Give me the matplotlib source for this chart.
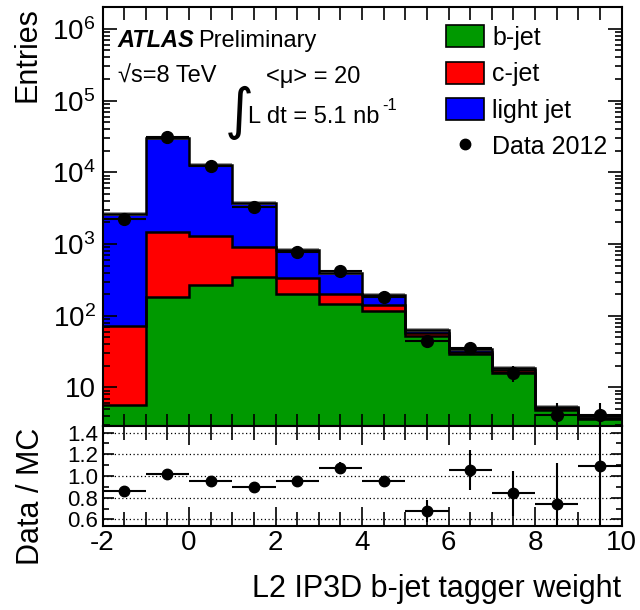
import numpy as np
import matplotlib
matplotlib.use("Agg")
import matplotlib.pyplot as plt
from matplotlib.patches import Patch
from matplotlib.lines import Line2D
from matplotlib.ticker import FixedLocator, FixedFormatter, MultipleLocator, NullFormatter, LogLocator

plt.rcParams['font.family'] = ['Liberation Sans', 'DejaVu Sans']
plt.rcParams['mathtext.default'] = 'regular'
plt.rcParams['axes.unicode_minus'] = False

# =========================
# data
# =========================
BIN_EDGES = [-2, -1, 0, 1, 2, 3, 4, 5, 6, 7, 8, 9, 10]

# stacked MC components (per-component contents, not cumulative)
B_JET = [5.7, 185, 270, 350, 200, 147, 118, 53, 29.5, 15.8, 4.9, 3.6]
C_JET = [66, 1295, 1030, 570, 133, 53, 24, 5, 2.0, 1.5, 0.3, 0.1]
LIGHT_JET = [2530, 28500, 11400, 2780, 492, 190, 50, 6, 3.0, 1.5, 0.2, 0.3]

DATA = [2200, 31000, 12300, 3300, 770, 420, 182, 44, 36, 16, 4.1, 4.1]
DATA_ERR = [47, 176, 111, 57, 28, 20, 13.5, 6.6, 6.0, 4.0, 2.0, 2.0]

RATIO = [0.86, 1.02, 0.955, 0.90, 0.95, 1.077, 0.955, 0.68, 1.055, 0.84, 0.74, 1.095]
RATIO_ERR = [0.02, 0.008, 0.012, 0.02, 0.035, 0.05, 0.03, 0.10, 0.18, 0.21, 0.38, 0.65]

LABELS = ["b-jet", "c-jet", "light jet"]
COLORS = ["#009900", "#ff0000", "#0000ff"]

edges = np.array(BIN_EDGES, dtype=float)
centers = 0.5 * (edges[:-1] + edges[1:])

fig = plt.figure(figsize=(6.4, 6.1), dpi=100)
ax = fig.add_axes([0.1602, 0.3016, 0.8109, 0.6864])
rax = fig.add_axes([0.1602, 0.1377, 0.8109, 0.1639], sharex=ax)

# ---- stacked histogram ----
lower = np.full(len(B_JET), 1e-3)
for vals, col in zip([B_JET, C_JET, LIGHT_JET], COLORS):
    upper = lower + np.array(vals)
    ax.stairs(upper, edges, baseline=lower, fill=True, color=col, lw=0)
    lower = upper
total = lower

# MC stat band (thin grey) around the total
ax.stairs(total * 1.07, edges, baseline=total / 1.07, fill=True, color="#9a9a9a", lw=0)

lower = np.full(len(B_JET), 1e-3)
for vals in [B_JET, C_JET, LIGHT_JET]:
    upper = lower + np.array(vals)
    ax.stairs(upper, edges, baseline=None, color="black", lw=1.8)
    lower = upper

ax.errorbar(centers, DATA, yerr=DATA_ERR, xerr=0.5, fmt="o", color="black",
            ms=8.5, lw=1.5, capsize=0, zorder=5)

ax.set_yscale("log")
ax.set_ylim(2.9, 2.0e6)
ax.set_xlim(-2, 10)

ax.yaxis.set_major_locator(FixedLocator([10, 1e2, 1e3, 1e4, 1e5, 1e6]))
ax.yaxis.set_major_formatter(FixedFormatter(["10", "$10^{2}$", "$10^{3}$", "$10^{4}$", "$10^{5}$", "$10^{6}$"]))
ax.yaxis.set_minor_locator(LogLocator(base=10, subs=np.arange(2, 10)))
ax.yaxis.set_minor_formatter(NullFormatter())
ax.xaxis.set_major_locator(MultipleLocator(2))
ax.xaxis.set_minor_locator(MultipleLocator(0.5))
ax.tick_params(axis="x", labelbottom=False)
ax.tick_params(which="both", direction="in", top=True, right=True, width=1.2)
ax.tick_params(axis="y", which="major", length=10, labelsize=20, pad=5)
ax.tick_params(axis="y", which="minor", length=5)
ax.tick_params(axis="x", which="major", length=9)
ax.tick_params(axis="x", which="minor", length=9)
for s in ax.spines.values():
    s.set_linewidth(1.5)

# ---- legend ----
handles = [Patch(facecolor=c, edgecolor="black", lw=1.2) for c in COLORS]
handles.append(Line2D([], [], ls="none", marker="o", color="black", ms=7.5))
ax.legend(handles, LABELS + ["Data 2012"], loc="upper left",
          bbox_to_anchor=(446 / 640, 1 - 25 / 610), bbox_transform=fig.transFigure,
          frameon=False, fontsize=18, handlelength=1.5, handleheight=1.0,
          handletextpad=0.35, labelspacing=0.47, borderpad=0, borderaxespad=0)

# ---- ratio panel ----
for v in [0.6, 0.8, 1.0, 1.2, 1.4]:
    rax.axhline(v, color="black", ls=(0, (1, 2)), lw=0.9, zorder=1)
rax.errorbar(centers, RATIO, yerr=RATIO_ERR, xerr=0.5, fmt="o", color="black",
             ms=7.5, lw=1.5, capsize=0, zorder=5)
rax.set_ylim(0.54, 1.46)
rax.set_xlim(-2, 10)
rax.yaxis.set_major_locator(FixedLocator([0.6, 0.8, 1.0, 1.2, 1.4]))
rax.yaxis.set_major_formatter(FixedFormatter(["0.6", "0.8", "1.0", "1.2", "1.4"]))
rax.yaxis.set_minor_locator(MultipleLocator(0.1))
rax.tick_params(which="both", direction="in", top=True, right=True, width=1.2)
rax.tick_params(axis="y", which="major", labelsize=16, length=8, pad=3)
rax.tick_params(axis="y", which="minor", length=4)
rax.tick_params(axis="x", which="major", labelsize=20, length=14, pad=3)
rax.tick_params(axis="x", which="minor", length=10)
for s in rax.spines.values():
    s.set_linewidth(1.5)

# ---- texts ----
fig.text(117 / 640, 1 - 46.7 / 610, "ATLAS", fontsize=17, fontweight="bold",
         fontstyle="italic", va="baseline")
fig.text(198 / 640, 1 - 46.7 / 610, "Preliminary", fontsize=17, va="baseline")
fig.text(118 / 640, 1 - 83 / 610, "\u221as=8 TeV", fontsize=17, va="baseline")
fig.text(266 / 640, 1 - 83 / 610, "<\u03bc> = 20", fontsize=17, va="baseline")
fig.text(239 / 640, 1 - 113 / 610, "\u222b", fontsize=40, ha="center", va="center",
         family=["DejaVu Sans"])
fig.text(248 / 640, 1 - 123 / 610, "L dt = 5.1 nb", fontsize=17, va="baseline")
fig.text(382 / 640, 1 - 110 / 610, "-1", fontsize=12, va="baseline")

fig.text(27 / 640, 1 - 7 / 610, "Entries", fontsize=22, rotation=90, ha="center", va="top")
fig.text(31 / 640, 1 - 428 / 610, "Data / MC", fontsize=22, rotation=90, ha="center", va="top")
fig.text(621.5 / 640, 1 - 596.7 / 610, "L2 IP3D b-jet tagger weight", fontsize=22,
         ha="right", va="baseline")

fig.savefig("out.png", dpi=100)
